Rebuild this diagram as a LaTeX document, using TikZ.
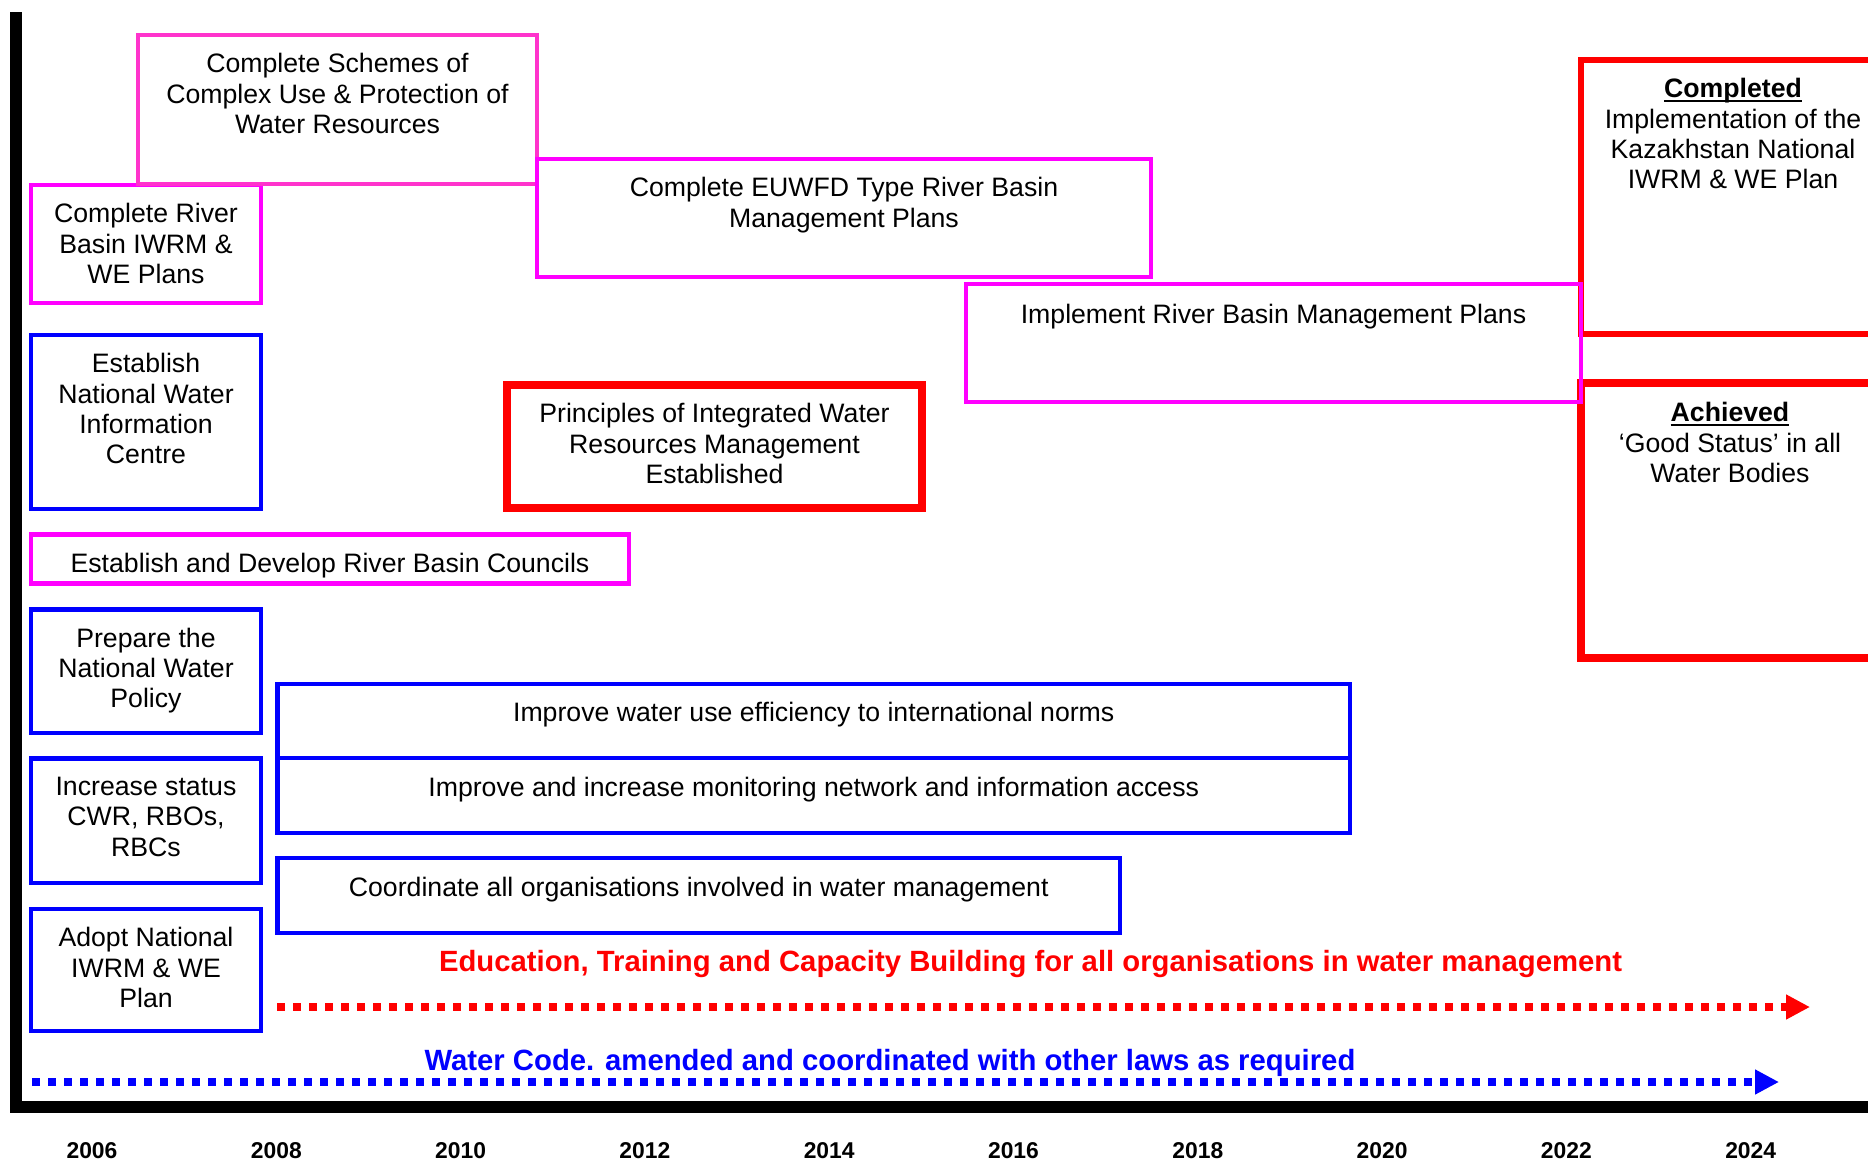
\documentclass[tikz,border=0pt]{standalone}
\usepackage{fontspec}
\setmainfont{Liberation Sans}
\usetikzlibrary{arrows.meta}

\definecolor{plmagenta}{RGB}{255,0,255}
\definecolor{plpink}{RGB}{255,51,204}
\definecolor{plred}{RGB}{255,0,0}
\definecolor{plblue}{RGB}{0,0,255}

\newcommand{\boxfont}{\fontsize{11.2}{12.75}\selectfont}
\newcommand{\barfont}{\bfseries\fontsize{12.3}{14}\selectfont}
\newcommand{\headline}[1]{\setbox0\hbox{\bfseries #1}\rlap{\rule[-2pt]{\wd0}{1pt}}\box0}

\begin{document}
\begin{tikzpicture}[x=0.42pt,y=-0.42pt,
  magbox/.style={draw=plmagenta,line width=1.9pt},
  pinkbox/.style={draw=plpink,line width=1.9pt},
  bluebox/.style={draw=plblue,line width=1.9pt},
  redbox/.style={draw=plred,line width=2.3pt},
  txt/.style={anchor=north,inner sep=0pt,align=center,font=\boxfont,yshift=-7.5pt,execute at begin node=\strut},
  timeline/.style={line width=3.36pt,dash pattern=on 3.36pt off 3.36pt,-{Triangle[length=10pt,width=9.8pt]}},
  axis/.style={line width=5pt},
  year/.style={font=\bfseries\fontsize{9.6}{11}\selectfont}]
\path[use as bounding box,clip] (0,0) rectangle (1868,1166);

\draw[magbox] (31,185) rectangle (261,303);
\node[txt] (river) at (146,185) {Complete River\\Basin IWRM \&\\WE Plans};
\draw[pinkbox] (138,35) rectangle (537,184);
\node[txt] (schemes) at (337.5,35) {Complete Schemes of\\Complex Use \& Protection of\\Water Resources};
\draw[magbox] (537,159) rectangle (1151,277);
\node[txt] (euwfd) at (844,159) {Complete EUWFD Type River Basin\\Management Plans};

\draw[redbox] (1581,60) rectangle (1900,334);
\node[txt] (completed) at (1733,60) {\headline{Completed}\\Implementation of the\\Kazakhstan National\\IWRM \& WE Plan};
\draw[redbox,line width=3pt] (1581,383) rectangle (1900,658);
\node[txt] (achieved) at (1730,384) {\headline{Achieved}\\‘Good Status’ in all\\Water Bodies};
\draw[magbox] (966,284) rectangle (1581,402);
\node[txt] (implement) at (1273.5,284) {Implement River Basin Management Plans};

\draw[bluebox] (31,335) rectangle (261,509);
\node[txt] (nwic) at (146,335) {Establish\\National Water\\Information\\Centre};
\draw[redbox,line width=3.1pt] (507,385) rectangle (922,508);
\node[txt] (principles) at (714.5,385) {Principles of Integrated Water\\Resources Management\\Established};
\draw[magbox] (31,534.5) rectangle (629,583.5);
\node[txt] (rbc) at (330,533) {Establish and Develop River Basin Councils};

\draw[bluebox] (31,609.5) rectangle (261,733);
\node[txt] (policy) at (146,609.5) {Prepare the\\National Water\\Policy};
\draw[bluebox] (277.5,684) rectangle (1350,758);
\node[txt] (efficiency) at (813.75,682) {Improve water use efficiency to international norms};
\draw[bluebox] (277.5,758) rectangle (1350,833);
\node[txt] (monitoring) at (813.75,757) {Improve and increase monitoring network and information access};
\draw[bluebox] (31,758.7) rectangle (261,883);
\node[txt] (status) at (146,758.7) {Increase status\\CWR, RBOs,\\RBCs};
\draw[bluebox] (277.5,858) rectangle (1120,933);
\node[txt] (coordinate) at (698.75,857) {Coordinate all organisations involved in water management};
\draw[bluebox] (31,909) rectangle (261,1031);
\node[txt] (adopt) at (146,909) {Adopt National\\IWRM \& WE\\Plan};

\coordinate (edu-start) at (277,1007);
\coordinate (edu-end) at (1810,1007);
\draw[timeline,plred] (edu-start) -- (edu-end);
\node[anchor=base,text=plred,font=\barfont] (edu) at (1030.5,971) {Education, Training and Capacity Building for all organisations in water management};
\coordinate (code-start) at (32,1082);
\coordinate (code-end) at (1779,1082);
\draw[timeline,plblue] (code-start) -- (code-end);
\node[anchor=base,text=plblue,font=\barfont] (code) at (890,1070) {Water Code. amended and coordinated with other laws as required};

\draw[axis] (16,12) -- (16,1107) -- (1868,1107);
\foreach \yr [count=\i from 0] in {2006,2008,...,2024}
  \node[year] (yr\yr) at ({92+\i*184.3},1151) {\yr};
\end{tikzpicture}
\end{document}
